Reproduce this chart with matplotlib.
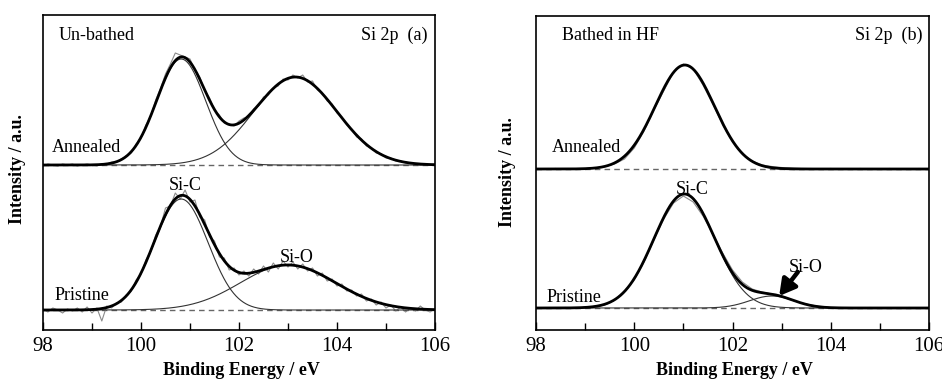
import numpy as np
import matplotlib
matplotlib.use("Agg")
import matplotlib.pyplot as plt

plt.rcParams['font.family'] = ['Liberation Serif', 'DejaVu Serif']

# energy grid of the measured spectra
energy_left = np.round(np.arange(98.0, 106.001, 0.1), 1)
energy_right = np.round(np.arange(98.0, 106.001, 0.2), 1)

# (a) un-bathed, measured counts (arb. units, baseline removed)
left_annealed_raw = [-1, 1, 0, -1, 1, 0, 1, -1, 0, 1,
                     0, -1, 1, 1, 3, 3, 6, 9, 12, 21,
                     27, 40, 49, 65, 77, 91, 101, 112, 110, 108,
                     106, 95, 88, 74, 67, 55, 50, 42, 41, 39,
                     44, 47, 48, 56, 59, 68, 70, 77, 79, 86,
                     85, 90, 87, 90, 83, 84, 75, 72, 64, 61,
                     52, 48, 40, 36, 28, 26, 19, 17, 12, 11,
                     7, 7, 4, 4, 2, 2, 1, 0, 1, 0,
                     1]
left_pristine_raw = [1, -2, 2, 0, -3, 1, -1, 2, -2, 3,
                     -3, 2, -11, 4, 2, 7, 8, 15, 19, 30,
                     36, 50, 59, 75, 84, 102, 104, 117, 111, 120,
                     108, 110, 93, 90, 73, 69, 53, 52, 40, 42,
                     35, 39, 34, 41, 36, 44, 38, 47, 41, 49,
                     43, 48, 41, 46, 39, 42, 34, 37, 29, 31,
                     24, 26, 19, 20, 14, 16, 9, 11, 5, 8,
                     2, 5, -1, 3, -2, 2, -1, 4, 0, -2,
                     1]

# (b) bathed in HF
right_annealed_raw = [0, 0, 0.5, 0, 0, 0.5, 1, 2.5, 5, 10,
                      21, 38, 59, 78, 97, 105, 100, 84, 65, 44,
                      27, 15, 8, 4, 2.5, 1.5, 1, 0.5, 0.5, 0,
                      0.5, 0, 0, 0.5, 0, 0, 0.5, 0, 0, 0.5,
                      0]
right_pristine_raw = [0, 0, 0, 0.5, 0, 0.5, 1.5, 3, 8, 17,
                      28, 46, 68, 89, 105, 112, 106, 92, 74, 55,
                      38, 26, 19, 16, 14, 12, 8.5, 5, 3, 1.5,
                      0.5, 0.5, 0, 0, 0.5, 0, 0, 0, 0.5, 0,
                      0]

# fitted gaussian components: centre (eV), height, sigma (eV)
left_annealed_peaks = {"center": [100.82, 103.15], "height": [106, 88], "sigma": [0.5, 0.85]}
left_pristine_peaks = {"center": [100.82, 103.0], "height": [111, 45], "sigma": [0.55, 0.97]}
right_annealed_peaks = {"center": [101.03], "height": [104], "sigma": [0.6]}
right_pristine_peaks = {"center": [101.02, 102.8], "height": [114, 12], "sigma": [0.62, 0.45]}


def gauss(x, c, h, s):
    return h * np.exp(-(x - c) ** 2 / (2 * s ** 2))


def draw_spectrum(ax, x_raw, raw, peaks, offset, show_components=True):
    xf = np.linspace(98, 106, 801)
    ax.axhline(offset, color='#666666', lw=1.0, ls=(0, (4, 3)), zorder=1)
    ax.plot(x_raw, np.array(raw) + offset, color='#8a8a8a', lw=0.8, zorder=2)
    total = np.zeros_like(xf)
    for c, h, s in zip(peaks["center"], peaks["height"], peaks["sigma"]):
        comp = gauss(xf, c, h, s)
        total += comp
        if show_components:
            ax.plot(xf, comp + offset, color='#333333', lw=0.8, zorder=3)
    ax.plot(xf, total + offset, color='black', lw=2.0, zorder=4)


fig = plt.figure(figsize=(9.42, 3.80), dpi=100)
ax1 = fig.add_axes([43 / 942, 1 - 330 / 380, 392 / 942, 315 / 380])
ax2 = fig.add_axes([536 / 942, 1 - 330 / 380, 393 / 942, 314 / 380])

draw_spectrum(ax1, energy_left, left_annealed_raw, left_annealed_peaks, 165)
draw_spectrum(ax1, energy_left, left_pristine_raw, left_pristine_peaks, 20)
draw_spectrum(ax2, energy_right, right_annealed_raw, right_annealed_peaks, 161, show_components=False)
draw_spectrum(ax2, energy_right, right_pristine_raw, right_pristine_peaks, 22)

ax1.set_ylim(0, 315)
ax2.set_ylim(0, 314)

for ax in (ax1, ax2):
    ax.set_xlim(98, 106)
    ax.set_xticks([98, 100, 102, 104, 106])
    ax.set_xticks([99, 101, 103, 105], minor=True)
    ax.set_yticks([])
    ax.tick_params(axis='x', which='both', direction='in', labelsize=15, pad=5,
                   top=False, width=1.0)
    ax.tick_params(axis='x', which='major', length=6)
    ax.tick_params(axis='x', which='minor', length=5)
    for sp in ax.spines.values():
        sp.set_linewidth(1.2)

fs = 13
ax1.text(98.31, 295, "Un-bathed", fontsize=fs, va='center')
ax1.text(105.84, 295, "Si 2p  (a)", fontsize=fs, va='center', ha='right')
ax1.text(98.18, 183, "Annealed", fontsize=fs, va='center')
ax1.text(98.24, 35, "Pristine", fontsize=fs, va='center')
ax1.text(100.9, 145, "Si-C", fontsize=fs, va='center', ha='center')
ax1.text(103.18, 72, "Si-O", fontsize=fs, va='center', ha='center')

ax2.text(98.53, 295, "Bathed in HF", fontsize=fs, va='center')
ax2.text(105.86, 295, "Si 2p  (b)", fontsize=fs, va='center', ha='right')
ax2.text(98.33, 183, "Annealed", fontsize=fs, va='center')
ax2.text(98.22, 33, "Pristine", fontsize=fs, va='center')
ax2.text(101.18, 140, "Si-C", fontsize=fs, va='center', ha='center')
ax2.text(103.48, 62, "Si-O", fontsize=fs, va='center', ha='center')
ax2.annotate("", xy=(102.95, 34), xytext=(103.33, 58),
             arrowprops=dict(arrowstyle='-|>,head_width=0.45,head_length=0.8',
                             lw=3.2, color='black', mutation_scale=12,
                             shrinkA=0, shrinkB=0))

fig.text(18 / 942, 0.555, "Intensity / a.u.", rotation=90, fontsize=fs,
         fontweight='bold', ha='center', va='center')
fig.text(507 / 942, 0.547, "Intensity / a.u.", rotation=90, fontsize=fs,
         fontweight='bold', ha='center', va='center')
fig.text(241 / 942, 0.026, "Binding Energy / eV", fontsize=fs,
         fontweight='bold', ha='center', va='center')
fig.text(734 / 942, 0.026, "Binding Energy / eV", fontsize=fs,
         fontweight='bold', ha='center', va='center')

fig.savefig("out.png", dpi=100)
